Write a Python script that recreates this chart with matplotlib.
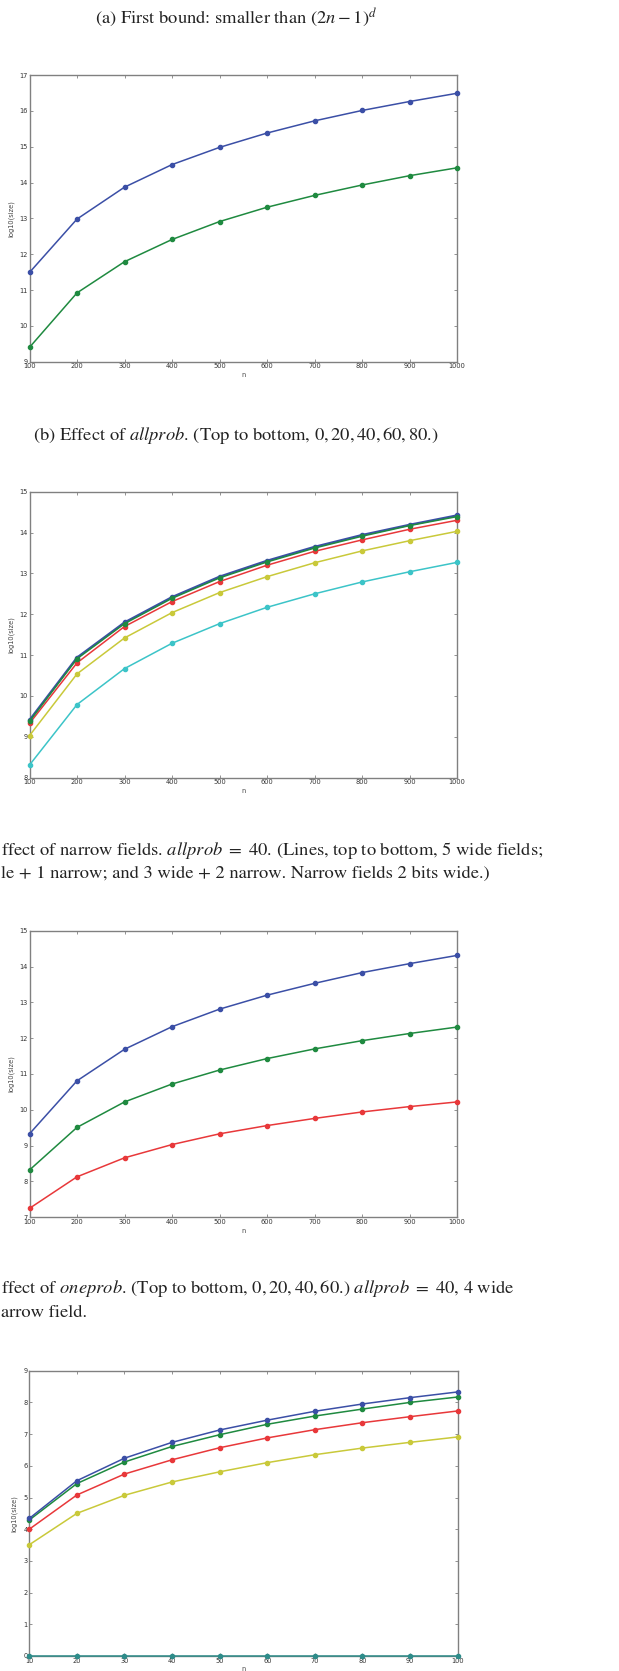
import matplotlib
matplotlib.use("Agg")
import matplotlib.pyplot as plt

plt.rcParams['mathtext.fontset'] = 'stix'

# ---------------- data ----------------
n_big = [100, 200, 300, 400, 500, 600, 700, 800, 900, 1000]
n_small = [10, 20, 30, 40, 50, 60, 70, 80, 90, 100]

# (a) first bound vs actual
a_bound = [11.49, 12.98, 13.87, 14.50, 14.98, 15.38, 15.72, 16.01, 16.26, 16.49]
a_actual = [9.40, 10.92, 11.79, 12.41, 12.91, 13.31, 13.64, 13.93, 14.19, 14.41]

# (b) effect of allprob: 0, 20, 40, 60, 80
b_0 = [9.41, 10.94, 11.80, 12.42, 12.92, 13.31, 13.65, 13.94, 14.19, 14.42]
b_20 = [9.38, 10.91, 11.77, 12.39, 12.89, 13.28, 13.62, 13.91, 14.17, 14.39]
b_40 = [9.33, 10.81, 11.70, 12.31, 12.80, 13.20, 13.54, 13.82, 14.08, 14.30]
b_60 = [9.03, 10.54, 11.42, 12.04, 12.53, 12.92, 13.26, 13.55, 13.80, 14.03]
b_80 = [8.31, 9.79, 10.67, 11.29, 11.77, 12.17, 12.50, 12.79, 13.04, 13.27]

# (c) effect of narrow fields
c_5w = [9.33, 10.81, 11.69, 12.32, 12.81, 13.20, 13.53, 13.83, 14.08, 14.31]
c_4w1n = [8.32, 9.51, 10.22, 10.72, 11.11, 11.43, 11.70, 11.93, 12.13, 12.31]
c_3w2n = [7.25, 8.13, 8.66, 9.03, 9.33, 9.56, 9.76, 9.94, 10.09, 10.22]

# (d) effect of oneprob: 0, 20, 40, 60, (and zero line)
d_0 = [4.34, 5.53, 6.24, 6.74, 7.13, 7.44, 7.72, 7.95, 8.15, 8.33]
d_20 = [4.29, 5.44, 6.12, 6.61, 6.98, 7.31, 7.57, 7.79, 8.00, 8.17]
d_40 = [4.00, 5.08, 5.74, 6.19, 6.57, 6.88, 7.14, 7.36, 7.55, 7.73]
d_60 = [3.51, 4.50, 5.07, 5.49, 5.81, 6.10, 6.35, 6.56, 6.74, 6.91]
d_80 = [0, 0, 0, 0, 0, 0, 0, 0, 0, 0]

cap_a = r"(a) First bound: smaller than $(2n-1)^d$"
cap_b = r"(b) Effect of $allprob$. (Top to bottom, $0, 20, 40, 60, 80$.)"
cap_c1 = r"ffect of narrow fields. $allprob\ =\ 40$. (Lines, top to bottom, 5 wide fields;"
cap_c2 = r"le + 1 narrow; and 3 wide + 2 narrow. Narrow fields 2 bits wide.)"
cap_d1 = r"ffect of $oneprob$. (Top to bottom, $0, 20, 40, 60$.) $allprob\ =\ 40$, 4 wide"
cap_d2 = r"arrow field."

# ---------------- style ----------------
BLUE = '#3b4fa6'
GREEN = '#1f8a40'
RED = '#e8383a'
YELLOW = '#c9c93a'
CYAN = '#3cc4c8'
TEAL = '#2e8c8a'
FRAME = '#808080'

W, H = 619, 1671
fig = plt.figure(figsize=(W / 100, H / 100), dpi=100)

def axes_px(left, top, right, bottom):
    return fig.add_axes([left / W, 1 - bottom / H, (right - left) / W, (bottom - top) / H])

def style(ax, xlim, ylim, xticks, yticks):
    ax.set_xlim(*xlim)
    ax.set_ylim(*ylim)
    ax.set_xticks(xticks)
    ax.set_yticks(yticks)
    ax.tick_params(direction='in', length=2.5, width=0.6, colors=FRAME,
                   labelcolor='#333333', labelsize=4.8, pad=1.2,
                   top=True, right=True)
    for s in ax.spines.values():
        s.set_color(FRAME)
        s.set_linewidth(1.0)
    ax.set_xlabel('n', fontsize=4.8, color='#444444', labelpad=2)
    ax.set_ylabel('log10(size)', fontsize=4.8, color='#444444', labelpad=4)

def line(ax, x, y, c, lw=1.1, ms=3.0):
    ax.plot(x, y, '-o', color=c, lw=lw, ms=ms, mec=c, mfc=c, clip_on=False, zorder=3)

cap_kw = dict(family='STIXGeneral', fontsize=13.3, color='#222222', va='baseline')

# (a)
fig.text(236 / W, 1 - 23 / H, cap_a, ha='center', **cap_kw)
ax = axes_px(29.5, 75, 457, 361.7)
style(ax, (100, 1000), (9, 17), n_big, range(9, 18))
line(ax, n_big, a_bound, BLUE)
line(ax, n_big, a_actual, GREEN)

# (b)
fig.text(236 / W, 1 - 440 / H, cap_b, ha='center', **cap_kw)
ax = axes_px(29.5, 491.7, 457, 777.7)
style(ax, (100, 1000), (8, 15), n_big, range(8, 16))
line(ax, n_big, b_80, CYAN)
line(ax, n_big, b_60, YELLOW)
line(ax, n_big, b_40, RED)
line(ax, n_big, b_0, BLUE, lw=1.6)
line(ax, n_big, b_20, GREEN)

# (c)
fig.text(1 / W, 1 - 855 / H, cap_c1, ha='left', **cap_kw)
fig.text(1 / W, 1 - 878 / H, cap_c2, ha='left', **cap_kw)
ax = axes_px(29.5, 930.7, 457, 1217.3)
style(ax, (100, 1000), (7, 15), n_big, range(7, 16))
line(ax, n_big, c_5w, BLUE)
line(ax, n_big, c_4w1n, GREEN)
line(ax, n_big, c_3w2n, RED)

# (d)
fig.text(1 / W, 1 - 1293 / H, cap_d1, ha='left', **cap_kw)
fig.text(1 / W, 1 - 1317 / H, cap_d2, ha='left', **cap_kw)
ax = axes_px(29.3, 1370.7, 457.7, 1656)
style(ax, (10, 100), (0, 9), n_small, range(0, 10))
line(ax, n_small, d_60, YELLOW)
line(ax, n_small, d_40, RED)
line(ax, n_small, d_20, GREEN)
line(ax, n_small, d_0, BLUE)
line(ax, n_small, d_80, TEAL)

fig.savefig('out.png', dpi=100)
